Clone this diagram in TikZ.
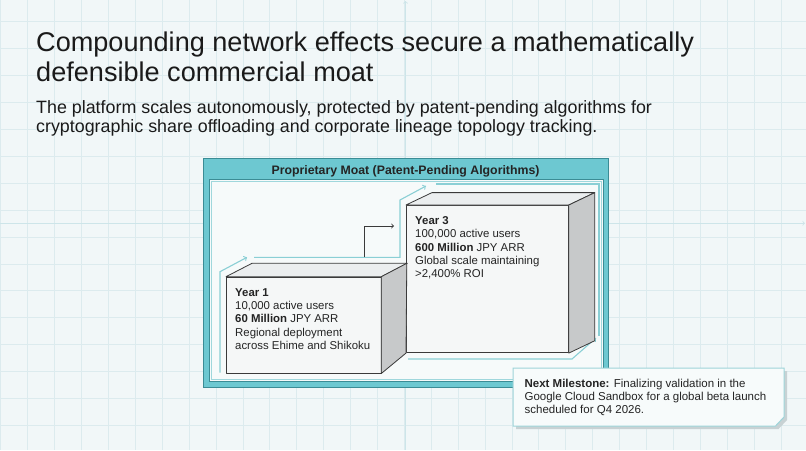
\documentclass[tikz,border=0pt]{standalone}
\usepackage{fontspec}
\setmainfont{Liberation Sans}
\usetikzlibrary{positioning}
\definecolor{paper}{HTML}{F1F7F8}
\definecolor{gridc}{HTML}{DCEBEE}
\definecolor{accentc}{HTML}{CDE5E9}
\definecolor{moatc}{HTML}{6DC8D1}
\definecolor{moatline}{HTML}{3B8C95}
\definecolor{panelc}{HTML}{F6FAFA}
\definecolor{panelline}{HTML}{9FD7DC}
\definecolor{flowc}{HTML}{8ACFD5}
\definecolor{frontc}{HTML}{F5F7F7}
\definecolor{topc}{HTML}{EBEEEF}
\definecolor{sidec}{HTML}{C7C9CA}
\definecolor{edgec}{HTML}{3A3A3A}
\definecolor{inkc}{HTML}{1A1A1A}
\definecolor{textc}{HTML}{242424}
\definecolor{notefill}{HTML}{F7FBFB}
\definecolor{noteline}{HTML}{9ED4D9}
\definecolor{shadowc}{HTML}{C8D2D4}
\newcommand\boxfont{\fontsize{11.4}{13.4}\selectfont}
\newcommand\notefont{\fontsize{11.5}{13.3}\selectfont}

\begin{document}
\begin{tikzpicture}[x=1pt,y=-1pt,>=to,
    gridline/.style={draw=gridc,line width=0.6pt},
    accent/.style={draw=accentc,line width=0.8pt},
    moatband/.style={draw=moatline,fill=moatc,line width=1.2pt,minimum width=405pt,minimum height=229pt,inner sep=0pt,anchor=north west},
    moatpool/.style={draw=moatline,fill=panelc,line width=0.7pt,minimum width=394pt,minimum height=202pt,inner sep=0pt,anchor=north west},
    face/.style={draw=edgec,line width=0.8pt,line join=round},
    front/.style={face,fill=frontc,inner sep=0pt,anchor=north west},
    flow/.style={draw=flowc,line width=1.1pt},
    link/.style={draw=edgec,line width=0.9pt},
    boxtext/.style={align=left,inner sep=0pt,text=textc,font=\boxfont},
  ]
    % background and grid
    \fill[paper] (0,0) rectangle (806,450);
    \useasboundingbox (0,0) rectangle (806,450);
    \foreach \i in {0,...,29} \draw[gridline] ({0.7+26.9*\i},0) -- ({0.7+26.9*\i},450);
    \foreach \j in {0,...,15} \draw[gridline] (0,{21.7+26.9*\j}) -- (806,{21.7+26.9*\j});
    \draw[accent,->] (405.5,450) -- (405.5,1);
    \draw[accent,->] (0,223.3) -- (805,223.3);

    % headline
    \node[anchor=north west,inner sep=0pt,align=left,text=inkc,font=\fontsize{27.1}{30}\selectfont] (headline) at (36,31.9) {Compounding network effects secure a mathematically\\defensible commercial moat};
    \node[anchor=north west,inner sep=0pt,align=left,text=inkc,font=\fontsize{17.85}{19.5}\selectfont] (lede) at (36,100) {The platform scales autonomously, protected by patent-pending algorithms for\\cryptographic share offloading and corporate lineage topology tracking.};

    % moat frame
    \node[moatband] (moat) at (203,158) {};
    \node[moatpool] (pool) at (209,179) {};
    \draw[panelline,line width=0.7pt] ([shift={(2.5,2.5)}]pool.north west) rectangle ([shift={(-2.5,-2.5)}]pool.south east);
    \node[font=\bfseries\fontsize{12.3}{14}\selectfont,text=textc,anchor=base] (moattitle) at (405.5,174.2) {Proprietary Moat (Patent-Pending Algorithms)};

    % flow around the blocks
    \draw[flow,->] (220,372.7) -- (220,271.7) -- (247,257.3);
    \draw[flow,->] (254,257.3) -- (400,257.3) -- (400,200) -- (426,186);
    \draw[flow] (436,184) -- (599,184) -- (599,336);
    \draw[flow,->] (408,359) -- (572,359) -- (596,338);

    % year 3 block
    \node[front,minimum width=162pt,minimum height=147.3pt] (y3) at (406,205) {};
    \filldraw[face,fill=topc] (y3.north west) -- ++(26,-12.4) -- ([shift={(26,-12.4)}]y3.north east) -- (y3.north east) -- cycle;
    \filldraw[face,fill=sidec] (y3.north east) -- ++(26,-12.4) -- ([shift={(26,-12.4)}]y3.south east) -- (y3.south east) -- cycle;
    \node[boxtext,below right=11.1pt and 9pt of y3.north west] (y3txt) {\textbf{Year 3}\\100,000 active users\\\textbf{600 Million} JPY ARR\\Global scale maintaining\\>2,400\% ROI};

    % year 1 block
    \node[front,minimum width=154.5pt,minimum height=96pt] (y1) at (226,276.7) {};
    \filldraw[face,fill=topc] (y1.north west) -- ++(26,-13.4) -- ([shift={(26,-13.4)}]y1.north east) -- (y1.north east) -- cycle;
    \filldraw[face,fill=sidec] (y1.north east) -- ++(25.5,-13.4) -- (y3.south west) -- (y1.south east) -- cycle;
    \node[boxtext,below right=11.4pt and 9pt of y1.north west] (y1txt) {\textbf{Year 1}\\10,000 active users\\\textbf{60 Million} JPY ARR\\Regional deployment\\across Ehime and Shikoku};

    % step up
    \coordinate (hook) at (364,257.3);
    \draw[link,->] (hook) |- ([xshift=-12pt,yshift=-21pt]y3.north west);

    % milestone note
    \fill[shadowc] (516,371) -- (787,371) -- (787,420) -- (778.5,429) -- (516,429) -- cycle;
    \filldraw[fill=notefill,draw=noteline,line width=1pt] (513,368) -- (784,368) -- (784,417) -- (775.5,426) -- (513,426) -- cycle;
    \node[boxtext,font=\notefont,anchor=north west] (milestone) at (524.4,378.8) {\textbf{Next Milestone:} Finalizing validation in the\\Google Cloud Sandbox for a global beta launch\\scheduled for Q4 2026.};
\end{tikzpicture}
\end{document}
